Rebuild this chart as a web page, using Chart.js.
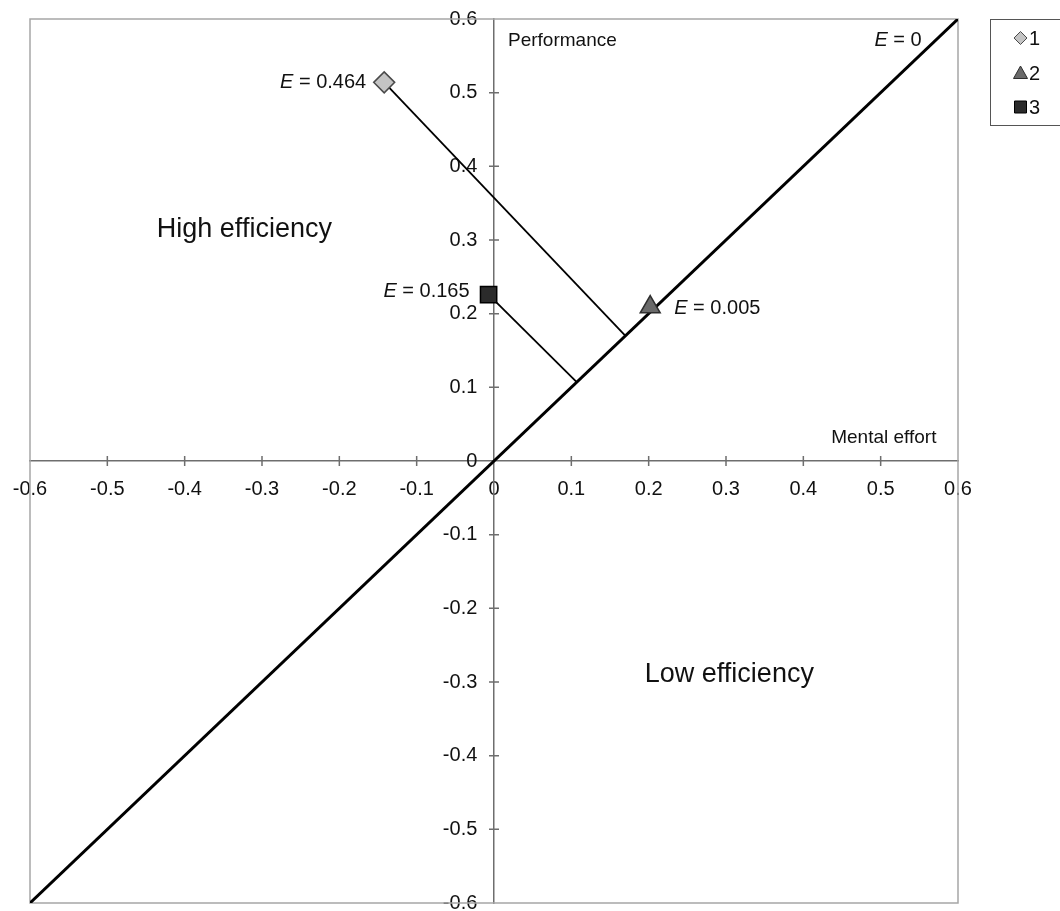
<!DOCTYPE html>
<html>
<head>
<meta charset="utf-8">
<title>Efficiency plot</title>
<script src="https://cdn.jsdelivr.net/npm/chart.js@4.4.1/dist/chart.umd.min.js"></script>
<style>
  html, body { margin: 0; padding: 0; background: #ffffff; }
  #wrap { width: 1060px; height: 911px; }
</style>
</head>
<body>
<div id="wrap"><canvas id="chart" width="1060" height="911"></canvas></div>
<script>
// Groups with their mean mental effort (x) and mean performance (y)
const groups = ['1', '2', '3'];
const mentalEffort = [-0.142, 0.202, -0.007];
const performance = [0.514, 0.209, 0.226];
const efficiencyLabels = ['0.464', '0.005', '0.165'];

// Where each group's distance line meets the E = 0 diagonal (null: no line drawn)
const dropFoot = [0.17, null, 0.107];

// The E = 0 diagonal runs corner to corner
const diagonalEnds = [-0.6, 0.6];

// Axis range and tick spacing
const axisMin = -0.6;
const axisMax = 0.6;
const tickStep = 0.1;

const FONT = "'Liberation Sans', Arial, Helvetica, sans-serif";

const markerStyles = [
  { pointStyle: 'rectRot', radius: 10.5, fill: '#c4c4c4', stroke: '#4a4a4a' },
  { pointStyle: 'triangle', radius: 11.5, fill: '#6a6a6a', stroke: '#2e2e2e' },
  { pointStyle: 'rect', radius: 11.5, fill: '#2b2b2b', stroke: '#000000' }
];

const datasets = [];

// Diagonal E = 0
datasets.push({
  label: 'E = 0',
  data: diagonalEnds.map(v => ({ x: v, y: v })),
  showLine: true,
  borderColor: '#000000',
  borderWidth: 3,
  pointRadius: 0,
  order: 3
});

// Perpendicular distance lines from each group to the diagonal
groups.forEach((g, i) => {
  if (dropFoot[i] === null) return;
  datasets.push({
    label: 'drop ' + g,
    data: [
      { x: mentalEffort[i], y: performance[i] },
      { x: dropFoot[i], y: dropFoot[i] }
    ],
    showLine: true,
    borderColor: '#000000',
    borderWidth: 1.8,
    pointRadius: 0,
    order: 2
  });
});

// Group markers
groups.forEach((g, i) => {
  const m = markerStyles[i];
  datasets.push({
    label: g,
    isGroup: true,
    efficiency: efficiencyLabels[i],
    data: [{ x: mentalEffort[i], y: performance[i] }],
    showLine: false,
    pointStyle: m.pointStyle,
    pointRadius: m.radius,
    pointHoverRadius: m.radius,
    backgroundColor: m.fill,
    borderColor: m.stroke,
    borderWidth: 1.5,
    clip: false,
    order: 1
  });
});

function fmtTick(v) {
  const r = Math.round(v * 10) / 10;
  return r === 0 ? '0' : r.toFixed(1);
}

// Frame around the plot and tick marks that cross the centred axes
const framePlugin = {
  id: 'frame',
  beforeDatasetsDraw(chart) {
    const { ctx, chartArea: a, scales: { x, y } } = chart;
    ctx.save();
    ctx.strokeStyle = '#a6a6a6';
    ctx.lineWidth = 1.5;
    ctx.strokeRect(a.left, a.top, a.right - a.left, a.bottom - a.top);

    ctx.strokeStyle = '#6e6e6e';
    ctx.lineWidth = 1.5;
    const x0 = x.getPixelForValue(0);
    const y0 = y.getPixelForValue(0);
    ctx.beginPath();
    x.ticks.forEach(t => {
      if (Math.abs(t.value) < 1e-9 || Math.abs(Math.abs(t.value) - axisMax) < 1e-9) return;
      const px = x.getPixelForValue(t.value);
      ctx.moveTo(px, y0 - 5);
      ctx.lineTo(px, y0 + 5);
    });
    y.ticks.forEach(t => {
      if (Math.abs(t.value) < 1e-9 || Math.abs(Math.abs(t.value) - axisMax) < 1e-9) return;
      const py = y.getPixelForValue(t.value);
      ctx.moveTo(x0 - 5, py);
      ctx.lineTo(x0 + 5, py);
    });
    ctx.stroke();
    ctx.restore();
  }
};

// Text drawn with an italic "E" followed by upright text
function drawEText(ctx, rest, xPos, yPos, align) {
  ctx.font = 'italic 20px ' + FONT;
  const eW = ctx.measureText('E').width;
  ctx.font = '20px ' + FONT;
  const rW = ctx.measureText(rest).width;
  const total = eW + rW;
  const left = align === 'right' ? xPos - total : xPos;
  ctx.textAlign = 'left';
  ctx.textBaseline = 'middle';
  ctx.font = 'italic 20px ' + FONT;
  ctx.fillText('E', left, yPos);
  ctx.font = '20px ' + FONT;
  ctx.fillText(rest, left + eW, yPos);
}

// Point labels, quadrant names, axis names and the legend box
const annotationPlugin = {
  id: 'annotations',
  afterDraw(chart) {
    const { ctx, scales: { x, y } } = chart;
    ctx.save();
    ctx.fillStyle = '#111111';

    chart.data.datasets.forEach(ds => {
      if (!ds.isGroup) return;
      const px = x.getPixelForValue(ds.data[0].x);
      const py = y.getPixelForValue(ds.data[0].y);
      const text = ' = ' + ds.efficiency;
      if (ds.label === '1') drawEText(ctx, text, px - 18, py, 'right');
      else if (ds.label === '2') drawEText(ctx, text, px + 24, py + 1, 'left');
      else drawEText(ctx, text, px - 19, py - 3, 'right');
    });

    // E = 0 tag near the top end of the diagonal
    drawEText(ctx, ' = 0', x.getPixelForValue(0.553), y.getPixelForValue(0.571), 'right');

    // Axis names
    ctx.font = '19px ' + FONT;
    ctx.textAlign = 'left';
    ctx.textBaseline = 'middle';
    ctx.fillText('Performance', x.getPixelForValue(0) + 14, y.getPixelForValue(0.57));
    ctx.fillText('Mental effort', x.getPixelForValue(0.436), y.getPixelForValue(0.032));

    // Quadrant names
    ctx.font = '27px ' + FONT;
    ctx.textBaseline = 'alphabetic';
    ctx.fillText('High efficiency', x.getPixelForValue(-0.436), y.getPixelForValue(0.304));
    ctx.fillText('Low efficiency', x.getPixelForValue(0.195), y.getPixelForValue(-0.3));

    // Legend box
    const lx = 990, ly = 19, lw = 74, lh = 106;
    ctx.strokeStyle = '#555555';
    ctx.lineWidth = 1;
    ctx.strokeRect(lx + 0.5, ly + 0.5, lw, lh);
    const rows = [38, 73, 107];
    chart.data.datasets.filter(ds => ds.isGroup).forEach((ds, i) => {
      const cx = 1020.5, cy = rows[i];
      ctx.fillStyle = ds.backgroundColor;
      ctx.strokeStyle = ds.borderColor;
      ctx.lineWidth = 1;
      ctx.beginPath();
      if (ds.pointStyle === 'rectRot') {
        ctx.moveTo(cx, cy - 6.5); ctx.lineTo(cx + 6.5, cy); ctx.lineTo(cx, cy + 6.5); ctx.lineTo(cx - 6.5, cy);
      } else if (ds.pointStyle === 'triangle') {
        ctx.moveTo(cx, cy - 7); ctx.lineTo(cx + 7, cy + 5.5); ctx.lineTo(cx - 7, cy + 5.5);
      } else {
        ctx.rect(cx - 6, cy - 6, 12, 12);
      }
      ctx.closePath();
      ctx.fill();
      ctx.stroke();
      ctx.fillStyle = '#111111';
      ctx.font = '20px ' + FONT;
      ctx.textAlign = 'left';
      ctx.textBaseline = 'middle';
      ctx.fillText(ds.label, 1029, cy + 1);
    });
    ctx.restore();
  }
};

// Centred axes should not push the plot area inwards
function noEdgePadding(scale) {
  scale.paddingTop = 0;
  scale.paddingBottom = 0;
  scale.paddingLeft = 0;
  scale.paddingRight = 0;
}

const axisCommon = {
  type: 'linear',
  min: axisMin,
  max: axisMax,
  grid: { display: true, drawOnChartArea: false, drawTicks: false },
  border: { display: true, color: '#6e6e6e', width: 1.5 },
  afterFit: noEdgePadding
};

new Chart(document.getElementById('chart'), {
  type: 'scatter',
  data: { datasets },
  options: {
    responsive: false,
    animation: false,
    events: [],
    layout: { autoPadding: false, padding: { left: 30, top: 19, right: 102, bottom: 8 } },
    plugins: {
      legend: { display: false },
      tooltip: { enabled: false }
    },
    scales: {
      x: Object.assign({}, axisCommon, {
        position: { y: 0 },
        ticks: {
          stepSize: tickStep,
          autoSkip: false,
          maxRotation: 0,
          padding: 16,
          color: '#111111',
          font: { family: FONT, size: 20 },
          callback: v => fmtTick(v)
        }
      }),
      y: Object.assign({}, axisCommon, {
        position: { x: 0 },
        ticks: {
          stepSize: tickStep,
          autoSkip: false,
          padding: 0,
          color: '#111111',
          font: { family: FONT, size: 20 },
          // labels sit right-aligned on the centred axis line; trailing spaces keep them clear of it
          callback: v => fmtTick(v) + '   '
        }
      })
    }
  },
  plugins: [framePlugin, annotationPlugin]
});
</script>
</body>
</html>
